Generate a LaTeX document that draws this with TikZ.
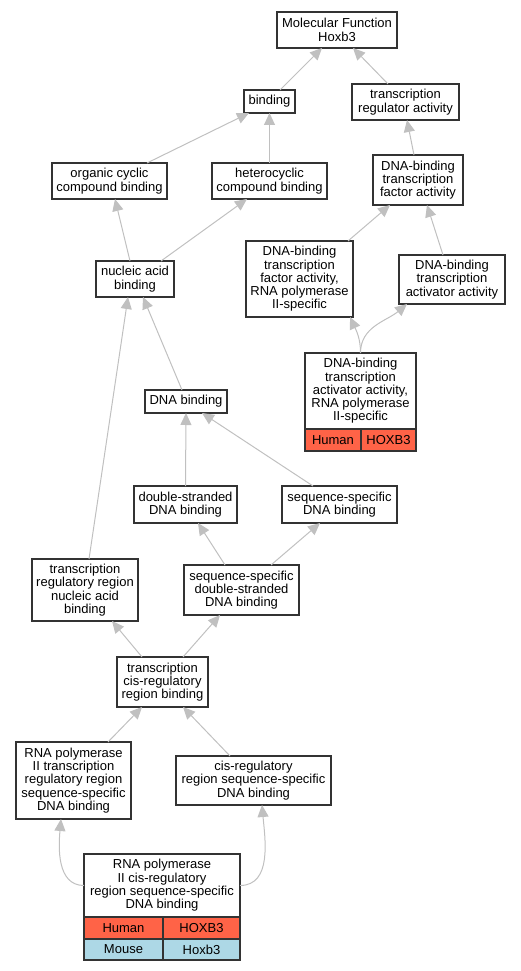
\documentclass[tikz,border=0pt]{standalone}
\usepackage{fontspec}
\setmainfont{Liberation Sans}
\usetikzlibrary{arrows.meta}
\definecolor{edgegray}{HTML}{C0C0C0}
\definecolor{boxline}{HTML}{333333}
\definecolor{human}{HTML}{FF6347}
\definecolor{mouse}{HTML}{ADD8E6}
\tikzset{
  term/.style={rectangle, draw=boxline, line width=1.2pt, fill=white, inner sep=0pt, outer sep=0pt, align=center, font=\fontsize{13}{13.3}\selectfont},
  cell/.style={rectangle, draw=boxline, line width=1.2pt, inner sep=0pt, outer sep=0pt, minimum height=22pt, font=\fontsize{13}{13.3}\selectfont},
  sz/.style 2 args={minimum width=#1pt, minimum height=#2pt},
  edge/.style={draw=edgegray, line width=1pt, -{Triangle[length=12pt,width=11pt]}}
}
\begin{document}
\begin{tikzpicture}[x=1pt, y=-1pt]
    \useasboundingbox (0,0) rectangle (521,971);

    % Terms
    \node[term, sz={120}{36}] (mf) at (337,30) {Molecular Function\\Hoxb3};
    \node[term, sz={51}{23}] (bind) at (269.5,101.5) {binding};
    \node[term, sz={107}{36}] (trreg) at (405.5,102) {transcription\\regulator activity};
    \node[term, sz={115}{36}] (orgcyc) at (109.5,181) {organic cyclic\\compound binding};
    \node[term, sz={115}{36}] (hetcyc) at (269.5,181) {heterocyclic\\compound binding};
    \node[term, sz={90}{50}] (dbtf) at (418,180) {DNA-binding\\transcription\\factor activity};
    \node[term, sz={78}{36}] (nucacid) at (135,279) {nucleic acid\\binding};
    \node[term, sz={107}{76}] (dbtfpol) at (299.5,279) {DNA-binding\\transcription\\factor activity,\\RNA polymerase\\II-specific};
    \node[term, sz={106}{49}] (dbtact) at (452,279.5) {DNA-binding\\transcription\\activator activity};
    \node[term, sz={82}{23}] (dnab) at (186,401.5) {DNA binding};
    \node[term, sz={103}{37}] (dsdna) at (185.5,504.5) {double-stranded\\DNA binding};
    \node[term, sz={115}{37}] (ssdna) at (339.5,504.5) {sequence-specific\\DNA binding};
    \node[term, sz={106}{62}] (trrna) at (85,590) {transcription\\regulatory region\\nucleic acid\\binding};
    \node[term, sz={115}{50}] (ssds) at (241.5,590) {sequence-specific\\double-stranded\\DNA binding};
    \node[term, sz={91}{50}] (tcrb) at (162.5,682) {transcription\\cis-regulatory\\region binding};
    \node[term, sz={115}{77}] (polrrs) at (73.5,780.5) {RNA polymerase\\II transcription\\regulatory region\\sequence-specific\\DNA binding};
    \node[term, sz={155}{49}] (cisrss) at (253.5,780.5) {cis-regulatory\\region sequence-specific\\DNA binding};

    % Annotated terms with gene table
    \node[term, sz={111}{76}] (dbtactpol) at (360.5,391) {DNA-binding\\transcription\\activator activity,\\RNA polymerase\\II-specific};
    \node[cell, fill=human, minimum width=56pt, anchor=north west] (hum1) at (dbtactpol.south west) {Human};
    \node[cell, fill=human, minimum width=55pt, anchor=north west] (gene1) at (hum1.north east) {HOXB3};

    \node[term, sz={156}{63}] (polcis) at (162,885.5) {RNA polymerase\\II cis-regulatory\\region sequence-specific\\DNA binding};
    \node[cell, fill=human, minimum width=79pt, anchor=north west] (hum2) at (polcis.south west) {Human};
    \node[cell, fill=human, minimum width=77pt, anchor=north west] (gene2) at (hum2.north east) {HOXB3};
    \node[cell, fill=mouse, minimum width=79pt, minimum height=21pt, anchor=north west] (mus2) at (hum2.south west) {Mouse};
    \node[cell, fill=mouse, minimum width=77pt, minimum height=21pt, anchor=north west] (mgene2) at (mus2.north east) {Hoxb3};

    % is_a edges
    \foreach \a/\da/\b/\db in {
        bind/10.5/mf/-15, trreg/-17.5/mf/16,
        orgcyc/37.5/bind/-20.5, hetcyc/0/bind/0,
        dbtf/-4/trreg/1.5,
        nucacid/-5/orgcyc/5.5, nucacid/26/hetcyc/-22.5,
        dbtfpol/48.5/dbtf/-28, dbtact/-9/dbtf/9,
        dnab/-4/nucacid/8, trrna/4/nucacid/-7,
        dsdna/0/dnab/0, ssdna/-26.5/dnab/16,
        ssds/-16.5/dsdna/12.5, ssds/29.5/ssdna/-19.5,
        tcrb/-20.5/trrna/27, tcrb/20.5/ssds/-21.5,
        polrrs/34.5/tcrb/-20.5, cisrss/-23.5/tcrb/20.5
    } {
        \draw[edge] ([xshift=\da pt]\a.north) -- ([xshift=\db pt]\b.south);
    }

    % Curved edges from the leaves
    \draw[edge] (dbtactpol.north) to[out=90, in=-65] ([xshift=50.5pt]dbtfpol.south);
    \draw[edge] (dbtactpol.north) to[out=90, in=-140] ([xshift=-45pt]dbtact.south);
    \draw[edge] (polcis.west) to[out=180, in=-95] ([xshift=-12.5pt]polrrs.south);
    \draw[edge] (polcis.east) to[out=0, in=-85] ([xshift=8.5pt]cisrss.south);

\end{tikzpicture}
\end{document}
